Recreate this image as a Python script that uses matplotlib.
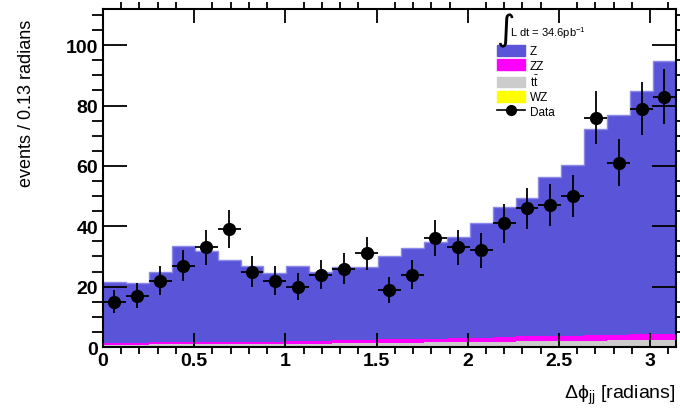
import matplotlib
matplotlib.use("Agg")
import matplotlib.pyplot as plt
from matplotlib.patches import Patch
from matplotlib.lines import Line2D
from matplotlib.ticker import MultipleLocator
import numpy as np

plt.rcParams['font.family'] = ['Liberation Sans', 'DejaVu Sans']
plt.rcParams['mathtext.default'] = 'regular'

# 25 bins between 0 and pi
edges = np.linspace(0, np.pi, 26)

wz = [0.3, 0.3, 0.3, 0.3, 0.3, 0.3, 0.3, 0.3, 0.3, 0.3, 0.4, 0.4, 0.4,
      0.4, 0.4, 0.4, 0.4, 0.4, 0.4, 0.4, 0.4, 0.4, 0.4, 0.4, 0.4]
tt = [0.5, 0.5, 0.6, 0.6, 0.6, 0.7, 0.7, 0.7, 0.8, 0.8, 0.9, 0.9, 1.0,
      1.0, 1.1, 1.2, 1.3, 1.4, 1.5, 1.6, 1.7, 1.7, 1.8, 1.9, 1.9]
zz = [0.5, 0.5, 0.6, 0.7, 0.8, 0.8, 0.8, 0.8, 0.8, 0.9, 0.9, 1.0, 1.1,
      1.2, 1.3, 1.4, 1.4, 1.5, 1.6, 1.7, 1.7, 1.8, 1.8, 1.9, 1.9]
z = [20.3, 19.9, 23.2, 32.0, 30.0, 27.1, 25.2, 22.6, 24.9, 22.8, 24.4, 24.3, 27.5,
     30.1, 32.1, 33.3, 38.0, 43.0, 45.8, 52.5, 56.6, 68.2, 73.0, 80.7, 90.7]
data = [15, 17, 22, 27, 33, 39, 25, 22, 20, 24, 26, 31, 19,
        24, 36, 33, 32, 41, 46, 47, 50, 76, 61, 79, 83]

c_z = '#5954d8'
c_zz = '#ff00ff'
c_tt = '#cccccc'
c_wz = '#ffff00'

fig = plt.figure(figsize=(6.8, 4.14), dpi=100)
ax = fig.add_axes([0.1515, 0.1594, 0.8425, 0.8164])

base = np.zeros(len(z))
for vals, col in [(wz, c_wz), (tt, c_tt), (zz, c_zz)]:
    top = base + np.array(vals)
    ax.stairs(top, edges, baseline=base, fill=True, color=col, lw=0)
    base = top
top = base + np.array(z)
ax.stairs(top, edges, baseline=base, fill=True, color=c_z, lw=0)
ax.stairs(top, edges, baseline=None, color='#8d89e8', lw=1)

centers = 0.5 * (edges[:-1] + edges[1:])
half = 0.5 * np.diff(edges)
ax.errorbar(centers, data, xerr=half, yerr=np.sqrt(data), fmt='o', color='black',
            ms=8.5, elinewidth=1.3, capsize=0)

ax.set_xlim(0, np.pi)
ax.set_ylim(0, 112)
ax.xaxis.set_major_locator(MultipleLocator(0.5))
ax.xaxis.set_minor_locator(MultipleLocator(0.1))
ax.yaxis.set_major_locator(MultipleLocator(20))
ax.yaxis.set_minor_locator(MultipleLocator(5))
ax.tick_params(direction='in', top=True, right=True, labelsize=14, width=1.3)
ax.tick_params(axis='x', which='major', length=10)
ax.tick_params(axis='x', which='minor', length=5, width=1.3, top=True)
ax.tick_params(axis='y', which='major', length=17)
ax.tick_params(axis='y', which='minor', length=8, width=1.3, right=True)
for lab in ax.get_xticklabels() + ax.get_yticklabels():
    lab.set_fontweight('bold')
ax.xaxis.set_major_formatter(plt.FuncFormatter(lambda v, p: f"{v:g}"))
for sp in ax.spines.values():
    sp.set_linewidth(1.5)

ax.set_ylabel('events / 0.13 radians', fontsize=13)
ax.yaxis.set_label_coords(-0.118, 0.97)
ax.yaxis.label.set_ha('right')
ax.set_xlabel(r'$\Delta\phi_{jj}$ [radians]', fontsize=14, loc='right', labelpad=10)

# luminosity header
fig.text(496 / 680, 1 - 31 / 414, r'$\int$', fontsize=18, va='center', ha='left')
fig.text(510 / 680, 1 - 33 / 414, r'L dt = 34.6pb$^{-1}$', fontsize=8, va='center', ha='left')

handles = [Patch(color=c_z), Patch(color=c_zz), Patch(color=c_tt), Patch(color=c_wz),
           Line2D([], [], color='black', marker='o', ms=7, lw=1.2)]
labels = ['Z', 'ZZ', r'$t\bar{t}$', 'WZ', 'Data']
ax.legend(handles, labels, loc='upper left',
          bbox_to_anchor=((497 - 103) / 573, 1 - (46 - 10) / 338),
          frameon=False, fontsize=8.5, handlelength=2.35, handleheight=1.0,
          labelspacing=0.17, handletextpad=0.45, borderpad=0, borderaxespad=0)

fig.savefig('out.png', dpi=100)
